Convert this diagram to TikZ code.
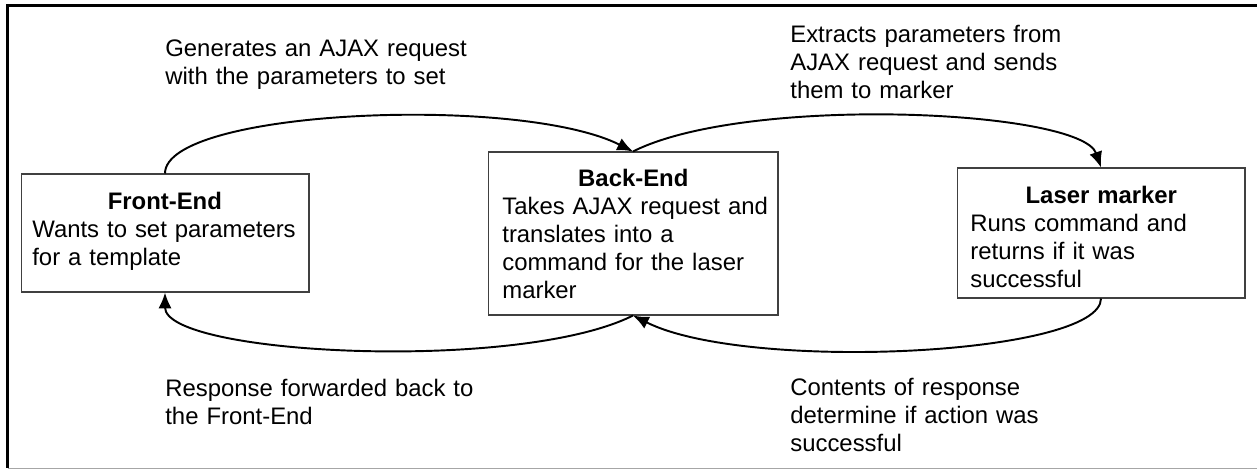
\documentclass[tikz,border=0pt]{standalone}
\usepackage{fontspec}
\setmainfont{Liberation Sans}
\usetikzlibrary{arrows.meta}
\begin{document}
\begin{tikzpicture}[x=0.02cm,y=-0.02cm,
  every node/.style={inner sep=0pt},
  box/.style={draw=black!75,line width=0.6pt},
  boxtext/.style={anchor=base west,text width=5.5cm,align=left,font=\fontsize{13.6}{15.9}\selectfont},
  note/.style={boxtext,text width=7cm},
  flow/.style={-{Latex[length=9pt,width=7.5pt]},line width=1.1pt}]
\useasboundingbox (0,0) rectangle (1257,469);
\draw [line width=1.7pt] (1257,5.8) -- (7.5,5.8) -- (7.5,468);
\draw [black!35,line width=0.6pt] (7.5,468.3) -- (1257,468.3);
\node [box,minimum width=5.76cm,minimum height=2.36cm] (fe) at (165,233) {};
\node [boxtext] (fe-text) at (32,210) {\makebox[5.3cm]{\bfseries Front-End}\\Wants to set parameters\\for a template};
\node [box,minimum width=5.8cm,minimum height=3.26cm] (be) at (633,233.5) {};
\node [boxtext] (be-text) at (502,187) {\makebox[5.24cm]{\bfseries Back-End}\\Takes AJAX request and\\translates into a\\command for the laser\\marker};
\node [box,minimum width=5.76cm,minimum height=2.6cm] (lm) at (1101,233) {};
\node [boxtext] (lm-text) at (970,204) {\makebox[5.24cm]{\bfseries Laser marker}\\Runs command and\\returns if it was\\successful};
\node [note] (req) at (165,57) {Generates an AJAX request\\with the parameters to set};
\node [note] (fwd) at (790,43) {Extracts parameters from\\AJAX request and sends\\them to marker};
\node [note] (resp) at (790,396) {Contents of response\\determine if action was\\successful};
\node [note] (back) at (165,397) {Response forwarded back to\\the Front-End};
\draw [flow] (fe.north) .. controls +(0,-64) and +(-113,-57) .. (be.north);
\draw [flow] (be.north) .. controls +(113,-57) and +(-20,-58) .. (lm.north);
\draw [flow] (lm.south) .. controls +(0,57) and +(113,57) .. (be.south);
\draw [flow] (be.south) .. controls +(-113,57) and +(0,63) .. (fe.south);
\end{tikzpicture}
\end{document}
